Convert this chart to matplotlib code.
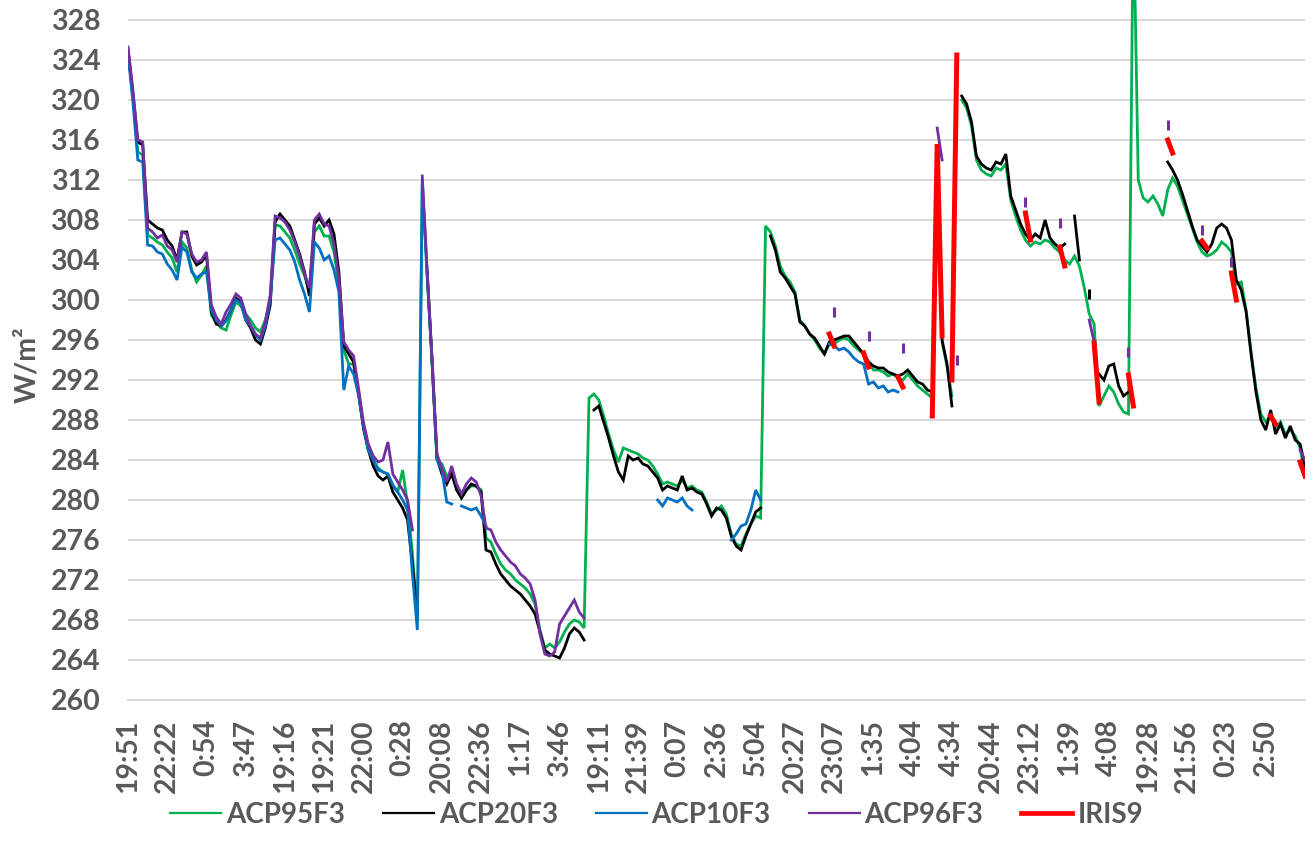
import numpy as np
import matplotlib
matplotlib.use("Agg")
import matplotlib.pyplot as plt

N = np.nan

tick_labels = ["19:51", "22:22", "0:54", "3:47", "19:16", "19:21", "22:00", "0:28",
               "20:08", "22:36", "1:17", "3:46", "19:11", "21:39", "0:07", "2:36",
               "5:04", "20:27", "23:07", "1:35", "4:04", "4:34", "20:44", "23:12",
               "1:39", "4:08", "19:28", "21:56", "0:23", "2:50"]
samples_per_label = 8

acp95f3 = [
    324.8, 320.3, 314.8, 314.5, 306.5, 306.2, 305.8, 305.5, 304.8, 304.2,
    302.8, 305.8, 305.2, 303.0, 301.8, 302.5, 303.4, 298.5, 297.8, 297.2,
    297.0, 298.5, 299.8, 299.4, 298.6, 298.0, 297.2, 296.8, 298.0, 300.0,
    307.5, 307.4, 306.8, 306.2, 305.0, 303.6, 302.4, 301.0, 306.8, 307.4,
    306.4, 306.4, 304.8, 301.6, 295.0, 293.6, 293.6, 290.6, 287.4, 285.0,
    284.0, 283.2, 282.8, 282.6, 281.4, 280.8, 283.0, 279.6, 274.6, 268.0,
    311.5, 302.6, 293.6, 284.0, 283.6, 282.4, 282.6, 281.4, 280.2, 281.0,
    281.4, 281.4, 281.0, 276.2, 275.8, 274.6, 273.6, 273.0, 272.6, 272.0,
    271.6, 271.2, 270.6, 269.6, 267.0, 265.2, 265.6, 265.2, 265.8, 266.8,
    267.6, 268.0, 267.8, 267.2, 290.2, 290.6, 290.0, 288.4, 286.6, 285.0,
    283.8, 285.2, 285.0, 284.8, 284.6, 284.2, 284.0, 283.4, 282.6, 281.6,
    281.8, 281.6, 281.4, 282.0, 281.2, 281.4, 281.0, 280.8, 279.8, 278.6,
    279.0, 279.4, 278.6, 276.6, 275.6, 275.4, 276.6, 277.6, 278.4, 278.2,
    307.4, 306.8, 305.4, 303.4, 302.4, 301.8, 300.8, 298.0, 297.4, 296.6,
    296.0, 295.2, 294.6, 295.6, 295.6, 296.0, 296.2, 296.0, 295.4, 295.0,
    294.6, 293.8, 293.0, 293.0, 292.8, 292.4, 292.6, 292.2, 292.0, 292.6,
    292.0, 291.4, 291.0, 290.6, 290.2, N, 295.8, 293.4, 290.4, N,
    320.0, 319.2, 317.4, 314.0, 313.0, 312.6, 312.4, 313.2, 313.0, 313.6,
    310.0, 308.4, 307.0, 306.0, 305.4, 305.8, 305.6, 306.0, 305.8, 305.2,
    304.8, 304.0, 303.6, 304.4, 303.4, 301.2, 298.6, 297.6, 289.4, 290.4,
    291.4, 290.8, 289.6, 288.8, 288.6, 340.0, 312.0, 310.2, 309.8, 310.4,
    309.6, 308.4, 311.0, 312.2, 311.4, 310.0, 308.6, 307.2, 305.8, 304.8,
    304.4, 304.6, 305.0, 305.8, 305.4, 304.8, 301.6, 301.8, 299.0, 294.8,
    291.2, 288.6, 287.8, 288.4, 287.2, 287.8, 286.6, 287.0, 286.4, 285.2,
    282.6]

acp20f3 = [
    325.0, 320.7, 315.8, 315.5, 308.0, 307.6, 307.2, 307.0, 306.0, 305.4,
    304.0, 306.8, 306.8, 304.4, 303.5, 303.8, 304.5, 298.8, 297.6, 297.4,
    298.0, 299.0, 300.2, 299.8, 298.0, 297.2, 296.0, 295.6, 297.2, 299.5,
    307.8, 308.6, 308.0, 307.4, 306.0, 304.6, 302.8, 300.4, 307.6, 308.2,
    307.4, 308.0, 306.6, 302.8, 295.4, 294.6, 293.8, 290.8, 287.2, 285.0,
    283.4, 282.4, 282.0, 282.4, 280.8, 280.0, 279.2, 278.0, 273.6, 268.5,
    N, 302.8, 294.0, 284.2, 282.6, 281.6, 282.6, 281.0, 280.2, 281.0,
    281.6, 281.4, 280.8, 275.0, 274.8, 273.6, 272.6, 272.0, 271.4, 271.0,
    270.6, 270.0, 269.4, 268.6, 266.8, 265.0, 264.6, 264.4, 264.2, 265.2,
    266.6, 267.2, 266.8, 266.0, N, 289.0, 289.4, 287.8, 286.2, 284.4,
    282.8, 282.0, 284.4, 284.0, 284.2, 283.6, 283.4, 282.8, 282.2, 281.0,
    281.4, 281.2, 281.0, 282.4, 281.0, 281.2, 280.8, 280.6, 279.6, 278.4,
    279.2, 279.0, 278.2, 276.4, 275.4, 275.0, 276.4, 277.6, 278.8, 279.2,
    N, 306.4, 305.0, 302.8, 302.2, 301.4, 300.6, 297.8, 297.4, 296.6,
    296.2, 295.4, 294.6, 295.8, 296.0, 296.2, 296.4, 296.4, 295.8, 295.2,
    294.6, 293.8, 293.4, 293.2, 293.2, 292.8, 292.6, 292.4, 292.6, 293.0,
    292.4, 291.8, 291.6, 291.0, 290.8, 310.0, 296.0, 293.6, 289.4, N,
    320.4, 319.6, 317.8, 314.4, 313.6, 313.2, 313.0, 313.8, 313.6, 314.6,
    310.4, 309.0, 307.6, 306.6, 306.0, 306.6, 306.2, 308.0, 306.2, 305.6,
    305.2, 305.6, N, 308.4, 304.0, N, 300.6, N, 292.6, 292.0,
    293.4, 293.6, 291.4, 290.4, 290.8, N, N, N, N, N,
    N, N, 313.8, 313.0, 312.0, 310.6, 309.0, 307.4, 306.0, 305.4,
    304.8, 305.6, 307.2, 307.6, 307.2, 306.0, 302.0, 301.0, 298.8, 294.6,
    290.8, 288.0, 287.0, 289.0, 286.6, 287.6, 286.2, 287.4, 286.0, 285.6,
    283.4]

acp10f3 = ([
    324.6, 319.8, 314.0, 313.8, 305.5, 305.4, 304.8, 304.6, 303.6, 303.0,
    302.0, 305.3, 304.8, 302.8, 302.2, 302.6, 302.8, 299.0, 298.0, 297.4,
    297.9, 299.0, 300.0, 299.7, 298.0, 297.4, 296.5, 296.0, 297.4, 300.0,
    306.0, 306.2, 305.6, 305.0, 303.8, 302.0, 300.6, 298.8, 305.8, 305.2,
    304.0, 304.4, 303.0, 300.8, 291.0, 293.4, 292.6, 290.5, 287.4, 285.0,
    284.0, 283.0, 282.8, 282.6, 281.5, 280.8, 280.0, 279.0, 272.6, 267.0,
    312.0, 302.5, 294.0, 284.0, 283.0, 279.8, 279.6, N, 279.4, 279.2,
    279.0, 279.2, 278.4, 277.4]
    + [N] * 34
    + [280.0, 279.4, 280.2, 280.0, 279.8, 280.2, 279.4, 279.0]
    + [N] * 7
    + [276.0, 276.6, 277.4, 277.6, 279.0, 281.0, 280.0]
    + [N] * 13
    + [295.6, 295.4, 295.0, 295.2, 294.8, 294.2, 293.8, 293.6, 291.6, 291.8,
       291.2, 291.4, 290.8, 291.0, 290.8]
    + [N] * 83)

acp96f3 = ([
    325.3, 321.0, 316.0, 315.8, 307.2, 306.8, 306.2, 306.5, 305.4, 305.0,
    303.8, 306.8, 306.6, 304.6, 303.8, 304.0, 304.8, 299.5, 298.3, 297.6,
    298.8, 299.6, 300.6, 300.2, 298.6, 297.4, 296.6, 296.2, 297.8, 300.5,
    308.4, 308.2, 307.8, 307.0, 305.8, 304.4, 302.6, 301.2, 308.0, 308.6,
    307.6, 307.4, 305.6, 302.2, 295.8, 295.0, 294.4, 291.2, 287.8, 285.6,
    284.4, 283.8, 284.0, 285.8, 282.6, 281.8, 281.0, 280.0, 277.0, N,
    312.4, 303.0, 294.0, 284.6, 283.2, 281.8, 283.4, 281.6, 280.6, 281.6,
    282.2, 281.8, 280.4, 277.2, 277.0, 275.8, 275.0, 274.4, 273.8, 273.4,
    272.6, 272.2, 271.6, 270.0, 266.6, 264.6, 264.4, 264.8, 267.6, 268.4,
    269.2, 270.0, 268.8, 268.2]
    + [N] * 50 + [298.8]
    + [N] * 6 + [296.4]
    + [N] * 6 + [295.2]
    + [N] * 6 + [317.2, 314.0]
    + [N] * 2 + [294.0]
    + [N] * 13 + [309.8]
    + [N] * 6 + [307.7]
    + [N] * 5 + [298.0, 295.8]
    + [N] * 6 + [294.8]
    + [N] * 7 + [317.5]
    + [N] * 6 + [307.0]
    + [N] * 5 + [303.8]
    + [N] * 13 + [285.0, 284.0])

iris9 = ([N] * 143 + [296.6, 295.4]
         + [N] * 5 + [294.7, 293.3]
         + [N] * 5 + [292.3, 291.3]
         + [N] * 5 + [288.4, 315.6, 296.4]
         + [N] * 1 + [292.0, 324.5]
         + [N] * 13 + [308.7, 306.0]
         + [N] * 5 + [305.3, 303.4]
         + [N] * 5 + [295.7, 289.8]
         + [N] * 5 + [292.5, 289.4]
         + [N] * 6 + [316.0, 314.7]
         + [N] * 5 + [305.9, 305.2]
         + [N] * 4 + [302.7, 300.0]
         + [N] * 6 + [288.4, 287.6]
         + [N] * 4 + [283.8, 282.4])

series = [
    ("ACP95F3", acp95f3, "#00B050", 2.0),
    ("ACP20F3", acp20f3, "#000000", 2.0),
    ("ACP10F3", acp10f3, "#0070C0", 2.0),
    ("ACP96F3", acp96f3, "#7030A0", 2.0),
    ("IRIS9", iris9, "#FF0000", 3.6),
]

n = len(acp95f3)
for name, vals, _, _ in series:
    assert len(vals) == n, (name, len(vals))

text_color = "#595959"
grid_color = "#D9D9D9"
font = "Lato"

W, H = 1313, 858
fig = plt.figure(figsize=(W / 100, H / 100), dpi=100)
ax = fig.add_axes([128 / W, 1 - 700 / H, (1305 - 128) / W, 700 / H])

x = np.arange(n)
handles = []
for z, (name, vals, color, lw) in enumerate(series):
    y = np.array(vals, dtype=float)
    ax.plot(x, y, color=color, lw=lw, zorder=3 + z, solid_joinstyle="miter")
    ok = ~np.isnan(y)
    prev_ok = np.r_[False, ok[:-1]]
    next_ok = np.r_[ok[1:], False]
    iso = ok & ~prev_ok & ~next_ok
    if iso.any():
        ax.plot(x[iso], y[iso], ls="none", marker="|", ms=7, mew=2.2,
                color=color, zorder=3 + z)
    h, = ax.plot([], [], color=color, lw=(1.6 if lw < 3 else 3.4), label=name)
    handles.append(h)

ax.set_xlim(0, n - 1)
ax.set_ylim(260, 330)
ax.set_yticks(np.arange(260, 329, 4))
ax.set_xticks(np.arange(len(tick_labels)) * samples_per_label)
ax.set_xticklabels(tick_labels, rotation=90)

ax.yaxis.grid(True, color=grid_color, lw=1.4, zorder=0)
ax.set_axisbelow(True)
for s in ["top", "right", "left"]:
    ax.spines[s].set_visible(False)
ax.spines["bottom"].set_color(grid_color)
ax.spines["bottom"].set_linewidth(1.4)

ax.tick_params(axis="both", length=0, labelcolor=text_color, labelsize=20.5)
ax.tick_params(axis="y", pad=20)
ax.tick_params(axis="x", pad=14)
for lab in ax.get_xticklabels() + ax.get_yticklabels():
    lab.set_fontfamily(font)
    lab.set_fontweight("bold")

fig.text(27 / W, 1 - 365 / H, "W/m²", rotation=90, ha="center", va="center",
         color=text_color, fontsize=20.5, fontweight="bold", fontfamily=font)

leg = ax.legend(handles=handles, loc="center",
                bbox_to_anchor=(0.5, 1 - 815 / H),
                bbox_transform=fig.transFigure, ncol=5, frameon=False,
                handlelength=1.83, handletextpad=0.18, columnspacing=1.37,
                prop={"family": font, "weight": "bold", "size": 20})
for t in leg.get_texts():
    t.set_color(text_color)

fig.savefig("out.png", dpi=100)
